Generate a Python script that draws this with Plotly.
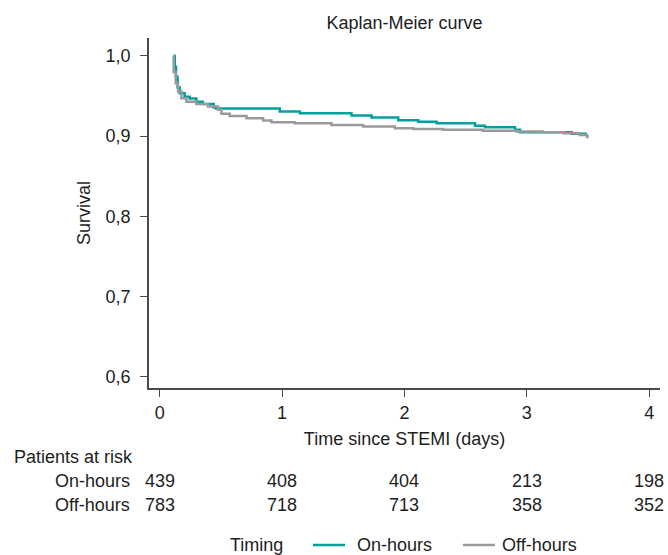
import plotly.graph_objects as go

# ---- data ----
on_hours_t = [0.109, 0.123, 0.133, 0.146, 0.163, 0.204, 0.245, 0.300, 0.352, 0.441, 0.460,
              0.981, 1.145, 1.567, 1.731, 1.949, 2.113, 2.263, 2.576, 2.658, 2.903, 2.944,
              3.367, 3.490]
on_hours_s = [1.000, 0.9867, 0.974, 0.961, 0.9535, 0.949, 0.947, 0.943, 0.940, 0.9356, 0.9344,
              0.9307, 0.9286, 0.9257, 0.9232, 0.920, 0.918, 0.916, 0.913, 0.911, 0.908, 0.905,
              0.903, 0.903]

off_hours_t = [0.109, 0.114, 0.131, 0.150, 0.177, 0.218, 0.300, 0.395, 0.477, 0.504, 0.572,
               0.709, 0.845, 0.913, 1.104, 1.403, 1.662, 1.921, 2.070, 2.317, 2.640, 2.916,
               3.130, 3.300, 3.430, 3.490, 3.495]
off_hours_s = [1.000, 0.980, 0.966, 0.9556, 0.9473, 0.943, 0.940, 0.937, 0.933, 0.9278, 0.925,
               0.9224, 0.9194, 0.9174, 0.916, 0.914, 0.912, 0.910, 0.909, 0.908, 0.9066, 0.9058,
               0.905, 0.9037, 0.9016, 0.900, 0.8975]

risk_times = [0, 1, 2, 3, 4]
risk_on = [439, 408, 404, 213, 198]
risk_off = [783, 718, 713, 358, 352]
y_ticks = [0.6, 0.7, 0.8, 0.9, 1.0]
x_ticks = [0, 1, 2, 3, 4]
group_names = ["On-hours", "Off-hours"]

TEAL = "#00A19C"
GREY = "#9A9A9A"
TXT = "#1e1e1e"
AX = "#4a4a4a"
FONT = "Liberation Sans, Arial, Helvetica, sans-serif"

W, H = 668, 555
ML, MR, MT, MB = 149, 8, 38, 167
PW = W - ML - MR
PH = H - MT - MB

fig = go.Figure()
fig.add_trace(go.Scatter(x=on_hours_t, y=on_hours_s, mode="lines", line_shape="hv",
                         line=dict(color=TEAL, width=2.5), name=group_names[0]))
fig.add_trace(go.Scatter(x=off_hours_t, y=off_hours_s, mode="lines", line_shape="hv",
                         line=dict(color=GREY, width=2.5), name=group_names[1]))

annotations = []
shapes = []
# Patients at risk table
annotations.append(dict(text="Patients at risk", xref="paper", yref="paper", x=0, y=0,
                        xanchor="left", yanchor="middle", xshift=-137.5, yshift=-69,
                        showarrow=False, font=dict(size=18, color=TXT)))
for label, vals, ys in [(group_names[0], risk_on, -93), (group_names[1], risk_off, -117)]:
    annotations.append(dict(text=label, xref="paper", yref="paper", x=0, y=0,
                            xanchor="right", yanchor="middle", xshift=-17.5, yshift=ys,
                            showarrow=False, font=dict(size=18, color=TXT)))
    for t, v in zip(risk_times, vals):
        annotations.append(dict(text=str(v), xref="x", yref="paper", x=t, y=0,
                                xanchor="center", yanchor="middle", yshift=ys,
                                showarrow=False, font=dict(size=18, color=TXT)))

# Manual legend (below the risk table)
leg_y = -157
annotations.append(dict(text="Timing", xref="paper", yref="paper", x=0, y=0,
                        xanchor="left", yanchor="middle", xshift=230 - ML - 2, yshift=leg_y,
                        showarrow=False, font=dict(size=18, color=TXT)))
for name, col, lx0, lx1, tx in [(group_names[0], TEAL, 313, 345, 357),
                                (group_names[1], GREY, 463, 495, 502)]:
    yy = leg_y / PH
    shapes.append(dict(type="line", xref="paper", yref="paper",
                       x0=(lx0 - ML) / PW, x1=(lx1 - ML) / PW, y0=yy, y1=yy,
                       line=dict(color=col, width=2.5)))
    annotations.append(dict(text=name, xref="paper", yref="paper", x=0, y=0,
                            xanchor="left", yanchor="middle", xshift=tx - ML - 2,
                            yshift=leg_y, showarrow=False, font=dict(size=18, color=TXT)))

fig.update_layout(
    width=W, height=H,
    margin=dict(l=ML, r=MR, t=MT, b=MB, autoexpand=False),
    paper_bgcolor="white", plot_bgcolor="white",
    separators=",.",
    font=dict(family=FONT, size=18, color=TXT),
    title=dict(text="Kaplan-Meier curve", x=0.5, xref="paper", xanchor="center",
               y=1 - 23 / H, yref="container", yanchor="middle",
               font=dict(size=18, color=TXT)),
    xaxis=dict(range=[-0.0875, 4.088], tickvals=x_ticks, ticks="outside", ticklen=7,
               tickwidth=1.3, tickcolor=AX, showline=True, linecolor=AX, linewidth=1.5,
               showgrid=False, zeroline=False, ticklabelstandoff=1,
               title=dict(text="Time since STEMI (days)", standoff=10, font=dict(size=18)),
               tickfont=dict(size=18, color=TXT)),
    yaxis=dict(range=[0.586, 1.0224], tickvals=y_ticks, tickformat=".1f", ticks="outside",
               ticklen=7, tickwidth=1.3, tickcolor=AX, showline=True, linecolor=AX,
               linewidth=1.5, showgrid=False, zeroline=False, ticklabelstandoff=6,
               title=dict(text="Survival", standoff=10, font=dict(size=18)),
               tickfont=dict(size=18, color=TXT)),
    annotations=annotations,
    shapes=shapes,
    showlegend=False,
)

fig.write_html("out.html",
               config={"displayModeBar": False},
               post_script="document.body.style.margin='0';document.body.style.overflow='hidden';")
